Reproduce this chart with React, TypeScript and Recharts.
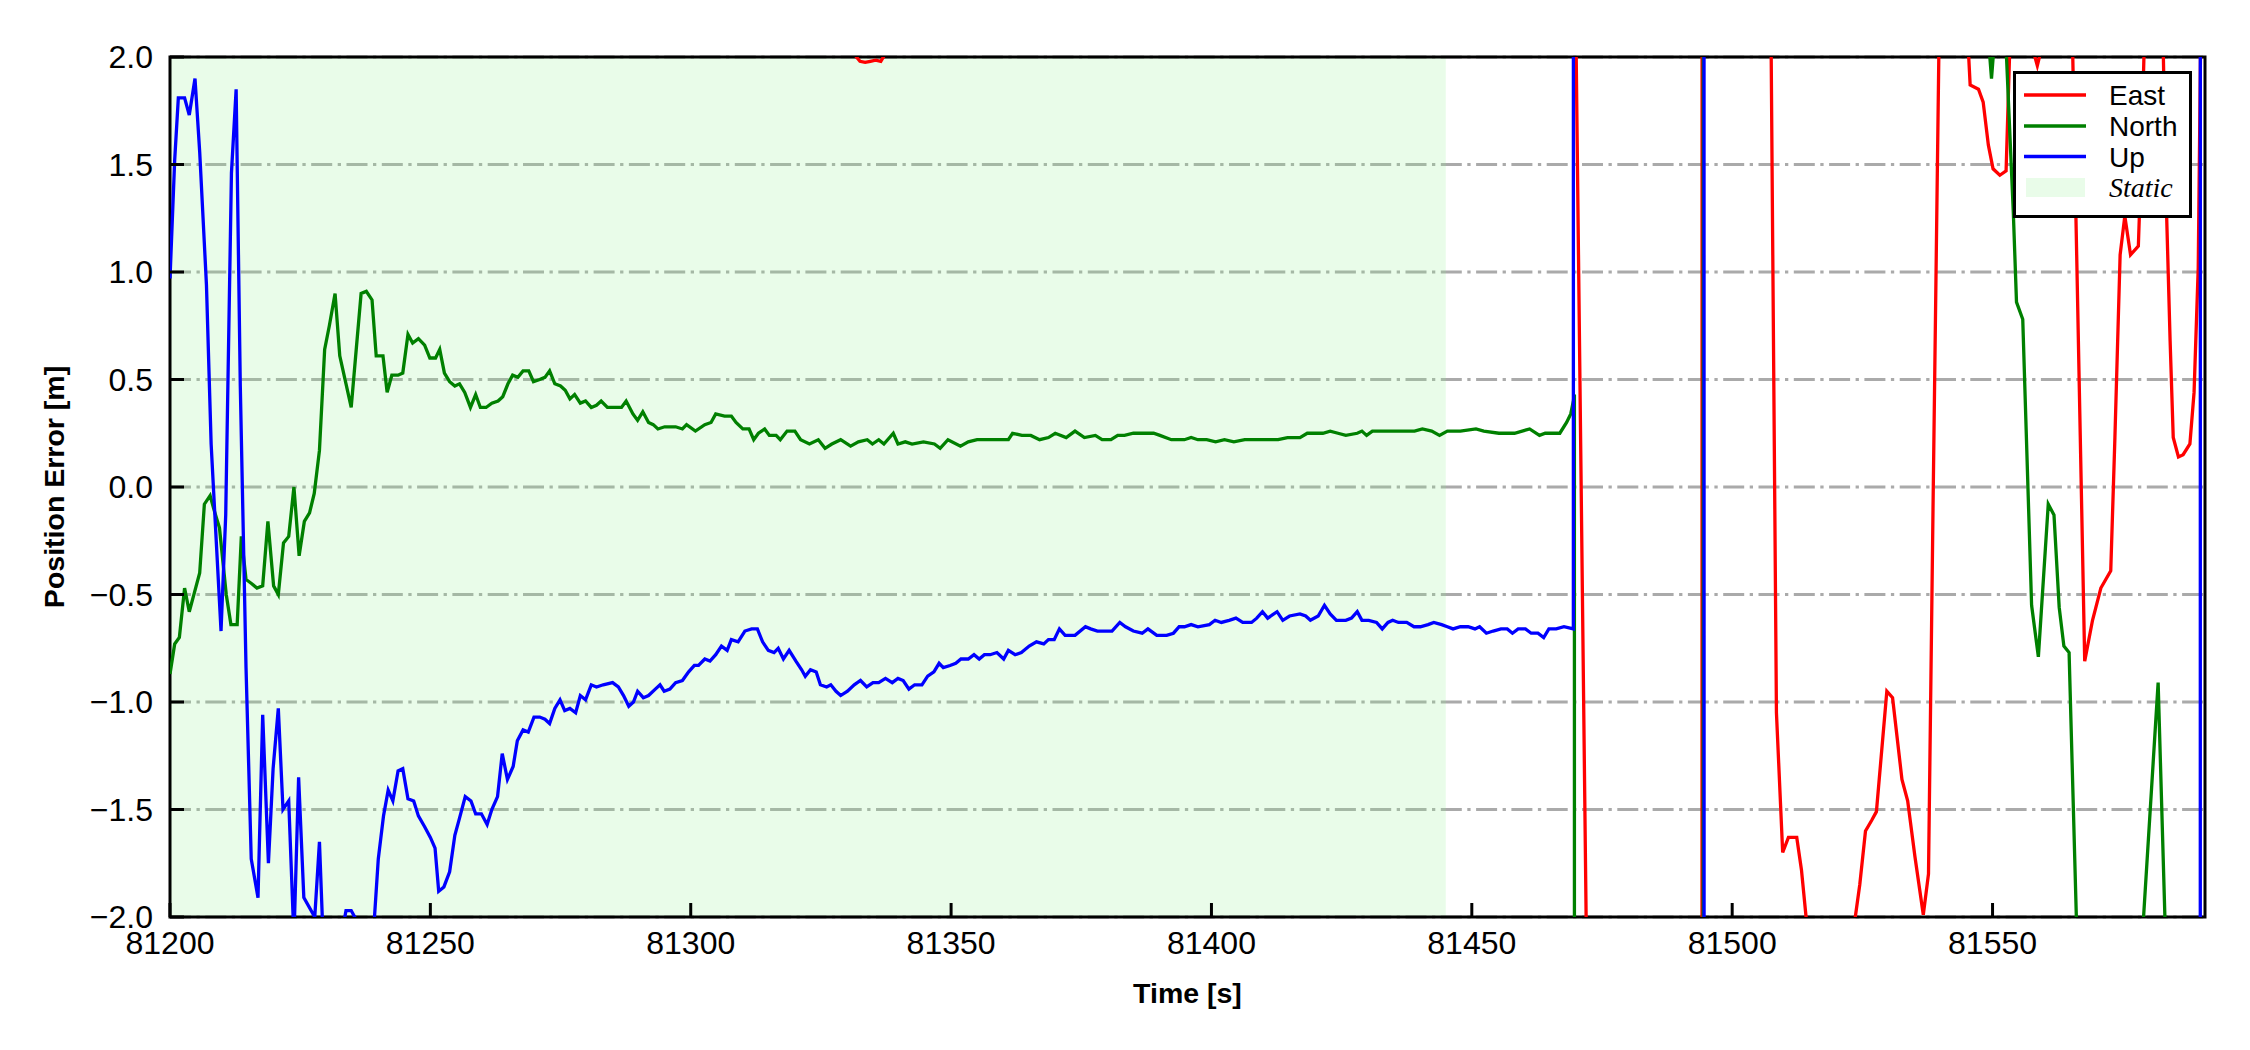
import React from 'react';
import {
  LineChart,
  Line,
  XAxis,
  YAxis,
  CartesianGrid,
  ReferenceArea,
  Legend,
} from 'recharts';

// ---------------- data (time [s], error [m]) ----------------
const eastPts: [number, number][] = [
  [81200, 2.6], [81250, 2.4], [81300, 2.15], [81328, 2.05], [81331.5, 2.01],
  [81332.5, 1.98], [81333.5, 1.975], [81334.5, 1.98], [81335.5, 1.985], [81336.5, 1.98],
  [81337.5, 2.02], [81345, 2.1], [81400, 2.25], [81450, 2.2], [81470, 2.1],
  [81473, -4.2], [81494.2, -5], [81494.3, 30], [81507, 3.5], [81508.5, -1.05],
  [81509.7, -1.7], [81510.8, -1.63], [81512.4, -1.63], [81513.3, -1.78], [81515, -2.2],
  [81519, -2.5], [81522.5, -2.2], [81524.5, -1.85], [81525.6, -1.6], [81526.8, -1.55],
  [81527.7, -1.51], [81529.7, -0.95], [81530.8, -0.98], [81532.6, -1.36], [81533.7, -1.46],
  [81535.1, -1.72], [81536.7, -1.99], [81537.7, -1.8], [81538.6, -0.04], [81540, 2.6],
  [81543, 3.0], [81545, 2.2], [81545.7, 1.87], [81547.3, 1.85], [81548.2, 1.79],
  [81549.2, 1.59], [81550.1, 1.48], [81551.4, 1.45], [81552.6, 1.47], [81554, 2.6],
  [81557.8, 2.03], [81558.6, 1.96], [81559.3, 2.03], [81562, 2.6], [81565, 2.5],
  [81567.7, -0.81], [81569.2, -0.62], [81570.8, -0.47], [81572.7, -0.39], [81573.5, 0.23],
  [81574.5, 1.08], [81575.4, 1.26], [81576.5, 1.08], [81578, 1.12], [81578.6, 1.55],
  [81579.7, 2.6], [81582.3, 2.6], [81583.4, 1.29], [81584.1, 0.68], [81584.7, 0.23],
  [81585.7, 0.14], [81586.6, 0.15], [81587.9, 0.2], [81588.7, 0.44], [81589.5, 1.02],
  [81590.5, 3.3],
];

const northPts: [number, number][] = [
  [81200, -0.87], [81200.9, -0.73], [81201.8, -0.7], [81202.8, -0.47], [81203.7, -0.58],
  [81204.7, -0.49], [81205.7, -0.4], [81206.6, -0.08], [81207.7, -0.04], [81208.5, -0.11],
  [81209.5, -0.19], [81210.8, -0.5], [81211.7, -0.64], [81212.9, -0.64], [81213.7, -0.23],
  [81214.6, -0.43], [81215.7, -0.45], [81216.7, -0.47], [81217.8, -0.46], [81218.8, -0.16],
  [81219.9, -0.46], [81220.8, -0.5], [81221.8, -0.26], [81222.8, -0.23], [81223.8, 0.0],
  [81224.8, -0.32], [81225.8, -0.16], [81226.8, -0.12], [81227.7, -0.03], [81228.7, 0.17],
  [81229.7, 0.64], [81230.6, 0.75], [81231.7, 0.9], [81232.6, 0.61], [81233.8, 0.48],
  [81234.8, 0.37], [81235.8, 0.65], [81236.7, 0.9], [81237.7, 0.91], [81238.8, 0.87],
  [81239.6, 0.61], [81240.9, 0.61], [81241.7, 0.44], [81242.6, 0.52], [81243.8, 0.52],
  [81244.7, 0.53], [81245.7, 0.71], [81246.6, 0.67], [81247.7, 0.69], [81248.9, 0.66],
  [81249.9, 0.6], [81251.0, 0.6], [81251.8, 0.64], [81252.7, 0.53], [81253.7, 0.49],
  [81254.7, 0.47], [81255.6, 0.48], [81256.6, 0.44], [81257.7, 0.37], [81258.7, 0.43],
  [81259.6, 0.37], [81260.7, 0.37], [81261.8, 0.39], [81263.0, 0.4], [81263.9, 0.42],
  [81264.9, 0.48], [81265.8, 0.52], [81266.8, 0.51], [81267.8, 0.54], [81268.9, 0.54],
  [81269.8, 0.49], [81271.0, 0.5], [81272.0, 0.51], [81272.9, 0.54], [81273.9, 0.48],
  [81275.0, 0.47], [81275.9, 0.45], [81276.8, 0.41], [81277.7, 0.43], [81278.8, 0.39],
  [81279.8, 0.4], [81280.9, 0.37], [81281.9, 0.38], [81282.8, 0.4], [81284.0, 0.37],
  [81285.4, 0.37], [81286.7, 0.37], [81287.6, 0.4], [81288.9, 0.34], [81289.8, 0.31],
  [81290.8, 0.35], [81291.9, 0.3], [81292.8, 0.29], [81293.7, 0.27], [81295.0, 0.28],
  [81297.1, 0.28], [81298.4, 0.27], [81299.2, 0.29], [81300.9, 0.26], [81302.7, 0.29],
  [81303.9, 0.3], [81304.8, 0.34], [81306.5, 0.33], [81307.8, 0.33], [81308.7, 0.3],
  [81310.0, 0.27], [81311.2, 0.27], [81312.1, 0.22], [81313.0, 0.25], [81314.2, 0.27],
  [81315.1, 0.24], [81316.4, 0.24], [81317.2, 0.22], [81318.5, 0.26], [81320.0, 0.26],
  [81321.1, 0.22], [81322.8, 0.2], [81324.5, 0.22], [81325.8, 0.18], [81327.1, 0.2],
  [81328.8, 0.22], [81330.7, 0.19], [81332.2, 0.21], [81333.9, 0.22], [81334.9, 0.2],
  [81336.1, 0.22], [81337.1, 0.2], [81338.9, 0.25], [81339.8, 0.2], [81341.2, 0.21],
  [81342.5, 0.2], [81344.7, 0.21], [81346.8, 0.2], [81347.9, 0.18], [81349.4, 0.22],
  [81351.8, 0.19], [81353.3, 0.21], [81355.0, 0.22], [81357.1, 0.22], [81359.3, 0.22],
  [81361.0, 0.22], [81361.8, 0.25], [81363.6, 0.24], [81365.3, 0.24], [81367.0, 0.22],
  [81368.7, 0.23], [81370.0, 0.25], [81372.1, 0.23], [81373.8, 0.26], [81375.6, 0.23],
  [81377.7, 0.24], [81379.0, 0.22], [81380.7, 0.22], [81382.0, 0.24], [81383.3, 0.24],
  [81385.0, 0.25], [81387.1, 0.25], [81388.9, 0.25], [81390.1, 0.24], [81392.3, 0.22],
  [81394.8, 0.22], [81396.1, 0.23], [81397.4, 0.22], [81399.1, 0.22], [81400.8, 0.21],
  [81402.5, 0.22], [81404.3, 0.21], [81406.4, 0.22], [81408.6, 0.22], [81411.1, 0.22],
  [81412.8, 0.22], [81414.6, 0.23], [81417.0, 0.23], [81418.4, 0.25], [81421.4, 0.25],
  [81422.8, 0.26], [81424.3, 0.25], [81425.8, 0.24], [81428.0, 0.25], [81428.9, 0.26],
  [81429.8, 0.24], [81430.9, 0.26], [81432.4, 0.26], [81435.3, 0.26], [81436.8, 0.26],
  [81439.0, 0.26], [81440.5, 0.27], [81442.3, 0.26], [81443.8, 0.24], [81445.3, 0.26],
  [81447.8, 0.26], [81450.8, 0.27], [81452.3, 0.26], [81455.2, 0.25], [81458.2, 0.25],
  [81461.1, 0.27], [81463.0, 0.24], [81464.1, 0.25], [81466.9, 0.25], [81468.2, 0.3],
  [81469.0, 0.34], [81469.5, 0.4], [81469.7, 0.43], [81469.8, -40], [81494.4, -40],
  [81494.5, 40], [81548, 3], [81549, 2.15], [81549.8, 1.9], [81550.6, 2.15],
  [81551.5, 2.4], [81552.5, 2.1], [81554, 1.27], [81554.6, 0.86], [81555.8, 0.78],
  [81557.5, -0.55], [81558.8, -0.79], [81560.7, -0.08], [81561.8, -0.13], [81562.8, -0.56],
  [81563.7, -0.74], [81564.7, -0.77], [81567, -2.8], [81578, -2.39], [81581.8, -0.91],
  [81583.1, -2.0], [81584, -2.6], [81590.5, -3],
];

const upPts: [number, number][] = [
  [81200, 0.97], [81200.9, 1.52], [81201.6, 1.81], [81202.8, 1.81], [81203.7, 1.73],
  [81204.8, 1.9], [81205.7, 1.56], [81207.0, 0.94], [81207.9, 0.2], [81208.9, -0.26],
  [81209.8, -0.67], [81210.7, -0.13], [81211.8, 1.46], [81212.7, 1.85], [81213.5, 0.47],
  [81214.6, -0.84], [81215.6, -1.73], [81216.9, -1.91], [81217.8, -1.06], [81218.9, -1.75],
  [81219.8, -1.31], [81220.8, -1.03], [81221.7, -1.5], [81222.8, -1.46], [81223.8, -2.1],
  [81224.7, -1.35], [81225.7, -1.91], [81227.8, -2.0], [81228.7, -1.65], [81229.4, -2.1],
  [81230.5, -2.2], [81233.2, -2.05], [81233.8, -1.97], [81234.8, -1.97], [81235.7, -2.01],
  [81237.5, -2.2], [81239.0, -2.1], [81240.0, -1.73], [81241.0, -1.53], [81241.9, -1.41],
  [81242.8, -1.46], [81243.8, -1.32], [81244.7, -1.31], [81245.7, -1.45], [81246.8, -1.46],
  [81247.7, -1.53], [81248.9, -1.58], [81250.0, -1.63], [81250.9, -1.68], [81251.6, -1.88],
  [81252.6, -1.86], [81253.7, -1.79], [81254.7, -1.62], [81255.6, -1.54], [81256.7, -1.44],
  [81257.8, -1.46], [81258.7, -1.52], [81259.8, -1.52], [81260.9, -1.57], [81261.8, -1.5],
  [81262.9, -1.44], [81263.8, -1.24], [81264.8, -1.36], [81265.9, -1.3], [81266.7, -1.18],
  [81267.8, -1.13], [81268.8, -1.14], [81269.9, -1.07], [81271.0, -1.07], [81272.0, -1.08],
  [81272.9, -1.1], [81273.9, -1.03], [81274.9, -0.99], [81275.8, -1.04], [81276.8, -1.03],
  [81277.9, -1.05], [81278.8, -0.97], [81279.8, -0.99], [81280.9, -0.92], [81281.9, -0.93],
  [81283.2, -0.92], [81285.0, -0.91], [81286.1, -0.93], [81287.1, -0.97], [81288.1, -1.02],
  [81289.0, -1.0], [81289.8, -0.95], [81290.9, -0.98], [81291.9, -0.97], [81293.2, -0.94],
  [81294.1, -0.92], [81294.9, -0.95], [81296.0, -0.94], [81297.1, -0.91], [81298.4, -0.9],
  [81299.6, -0.86], [81300.7, -0.83], [81301.5, -0.83], [81302.7, -0.8], [81303.7, -0.81],
  [81304.8, -0.78], [81305.9, -0.74], [81307.0, -0.76], [81307.8, -0.71], [81309.1, -0.72],
  [81310.4, -0.67], [81311.7, -0.66], [81312.8, -0.66], [81313.8, -0.72], [81314.9, -0.76],
  [81316.0, -0.77], [81316.8, -0.75], [81317.8, -0.8], [81318.9, -0.76], [81320.2, -0.81],
  [81321.3, -0.85], [81322.0, -0.88], [81323.0, -0.85], [81324.1, -0.86], [81324.9, -0.92],
  [81326.1, -0.93], [81326.9, -0.92], [81327.9, -0.95], [81328.8, -0.97], [81330.1, -0.95],
  [81331.4, -0.92], [81332.6, -0.9], [81333.8, -0.93], [81335.0, -0.91], [81336.1, -0.91],
  [81337.4, -0.89], [81338.7, -0.91], [81339.8, -0.89], [81340.8, -0.9], [81341.9, -0.94],
  [81343.0, -0.92], [81344.4, -0.92], [81345.5, -0.88], [81346.7, -0.86], [81347.7, -0.82],
  [81348.5, -0.84], [81349.8, -0.83], [81350.9, -0.82], [81351.9, -0.8], [81353.3, -0.8],
  [81354.4, -0.78], [81355.4, -0.8], [81356.4, -0.78], [81357.5, -0.78], [81358.8, -0.77],
  [81360.1, -0.8], [81361.0, -0.76], [81362.3, -0.78], [81363.5, -0.77], [81365.0, -0.74],
  [81366.4, -0.72], [81367.8, -0.73], [81368.7, -0.71], [81369.8, -0.71], [81370.8, -0.66],
  [81371.9, -0.69], [81373.8, -0.69], [81375.8, -0.65], [81376.8, -0.66], [81378.1, -0.67],
  [81379.8, -0.67], [81380.9, -0.67], [81382.4, -0.63], [81383.5, -0.65], [81385.0, -0.67],
  [81386.7, -0.68], [81387.8, -0.66], [81389.5, -0.69], [81391.4, -0.69], [81392.7, -0.68],
  [81393.8, -0.65], [81394.8, -0.65], [81396.1, -0.64], [81397.4, -0.65], [81399.6, -0.64],
  [81400.7, -0.62], [81401.9, -0.63], [81403.4, -0.62], [81404.7, -0.61], [81406.0, -0.63],
  [81407.7, -0.63], [81408.7, -0.61], [81409.8, -0.58], [81410.8, -0.61], [81412.6, -0.58],
  [81413.7, -0.62], [81415.0, -0.6], [81417.0, -0.59], [81418.1, -0.6], [81419.0, -0.62],
  [81420.5, -0.6], [81421.7, -0.55], [81422.8, -0.59], [81424.0, -0.62], [81425.8, -0.62],
  [81426.9, -0.61], [81428.0, -0.58], [81428.9, -0.62], [81430.2, -0.62], [81431.7, -0.63],
  [81432.8, -0.66], [81433.9, -0.63], [81434.8, -0.62], [81435.9, -0.63], [81437.5, -0.63],
  [81438.9, -0.65], [81440.1, -0.65], [81441.6, -0.64], [81442.7, -0.63], [81444.2, -0.64],
  [81445.3, -0.65], [81446.4, -0.66], [81447.8, -0.65], [81449.3, -0.65], [81450.6, -0.66],
  [81451.5, -0.65], [81452.8, -0.68], [81454.1, -0.67], [81455.6, -0.66], [81456.8, -0.66],
  [81457.8, -0.68], [81458.9, -0.66], [81460.3, -0.66], [81461.4, -0.68], [81462.7, -0.68],
  [81463.8, -0.7], [81464.8, -0.66], [81466.2, -0.66], [81467.7, -0.65], [81469.5, -0.66],
  [81469.6, 40], [81494.5, 40], [81494.7, -40], [81589.8, -40], [81590.0, 40],
];

const xTicks = [81200, 81250, 81300, 81350, 81400, 81450, 81500, 81550];
const yTicks = [-2, -1.5, -1, -0.5, 0, 0.5, 1, 1.5, 2];
const xDomain: [number, number] = [81200, 81590.8];
const yDomain: [number, number] = [-2, 2];
const staticSpan: [number, number] = [81200, 81445];

const seriesNames = ['East', 'North', 'Up'];
const seriesColors = ['#ff0000', '#008000', '#0000ff'];
const staticLabel = 'Static';

const toRows = (pts: [number, number][]) => pts.map(([t, v]) => ({ t, v }));
const eastData = toRows(eastPts);
const northData = toRows(northPts);
const upData = toRows(upPts);

const FONT = '"Liberation Sans", Arial, Helvetica, sans-serif';
const fmtY = (v: number) => v.toFixed(1).replace('-', '\u2212');

const renderYLabel = () => (
  <text
    x={64}
    y={487}
    transform="rotate(-90 64 487)"
    textAnchor="middle"
    fontFamily={FONT}
    fontWeight="bold"
    fontSize={28.5}
    fill="#000"
  >
    Position Error [m]
  </text>
);

const renderXLabel = () => (
  <text
    x={1187.5}
    y={1003}
    textAnchor="middle"
    fontFamily={FONT}
    fontWeight="bold"
    fontSize={28.5}
    fill="#000"
  >
    Time [s]
  </text>
);

const renderLegend = () => {
  const rowsY = [24, 55, 85.5];
  return (
    <svg width={179} height={147} style={{ display: 'block' }}>
      <rect x={1.5} y={1.5} width={176} height={144} fill="#ffffff" stroke="#000" strokeWidth={3} />
      {seriesNames.map((name, i) => (
        <g key={name}>
          <line x1={11} x2={73} y1={rowsY[i]} y2={rowsY[i]} stroke={seriesColors[i]} strokeWidth={3.3} />
          <text x={96} y={rowsY[i] + 10} fontFamily={FONT} fontSize={28} fill="#000">
            {name}
          </text>
        </g>
      ))}
      <rect x={13} y={107} width={59} height={19} fill="#90ee90" fillOpacity={0.2} />
      <text
        x={96}
        y={125.5}
        fontFamily='"Liberation Serif", "Times New Roman", serif'
        fontStyle="italic"
        fontSize={28}
        fill="#000"
      >
        {staticLabel}
      </text>
    </svg>
  );
};

export default function App() {
  return (
    <div style={{ position: 'absolute', left: 0, top: 0, width: 2250, height: 1050, background: '#fff' }}>
      <LineChart width={2250} height={1050} margin={{ top: 57, right: 45, bottom: 73, left: 70 }}>
        <ReferenceArea
          x1={staticSpan[0]}
          x2={staticSpan[1]}
          y1={yDomain[0]}
          y2={yDomain[1]}
          fill="#90ee90"
          fillOpacity={0.2}
          stroke="none"
        />
        <CartesianGrid
          vertical={false}
          stroke="#aaaaaa"
          strokeWidth={3}
          strokeDasharray="21 5.5 3.3 5.5"
        />
        <XAxis
          type="number"
          dataKey="t"
          domain={xDomain}
          allowDataOverflow
          ticks={xTicks}
          interval={0}
          height={60}
          axisLine={false}
          tickSize={-14}
          tickMargin={28}
          tickLine={{ stroke: '#000', strokeWidth: 3 }}
          tick={{ fill: '#000', fontSize: 32, fontFamily: FONT }}
          label={renderXLabel}
        />
        <YAxis
          type="number"
          domain={yDomain}
          allowDataOverflow
          ticks={yTicks}
          interval={0}
          width={100}
          axisLine={false}
          tickSize={-14}
          tickMargin={31}
          tickFormatter={fmtY}
          tickLine={{ stroke: '#000', strokeWidth: 3 }}
          tick={{ fill: '#000', fontSize: 32, fontFamily: FONT }}
          label={renderYLabel}
        />
        <Line data={eastData} dataKey="v" name={seriesNames[0]} type="linear" stroke={seriesColors[0]}
          strokeWidth={3.3} dot={false} activeDot={false} isAnimationActive={false} />
        <Line data={northData} dataKey="v" name={seriesNames[1]} type="linear" stroke={seriesColors[1]}
          strokeWidth={3.3} dot={false} activeDot={false} isAnimationActive={false} />
        <Line data={upData} dataKey="v" name={seriesNames[2]} type="linear" stroke={seriesColors[2]}
          strokeWidth={3.3} dot={false} activeDot={false} isAnimationActive={false} />
        <ReferenceArea
          x1={xDomain[0]}
          x2={xDomain[1]}
          y1={yDomain[0]}
          y2={yDomain[1]}
          fill="none"
          fillOpacity={0}
          stroke="#000"
          strokeWidth={3}
        />
        <Legend
          layout="horizontal"
          verticalAlign="middle"
          align="center"
          content={renderLegend}
          wrapperStyle={{ position: 'absolute', left: 2013, top: 71, width: 179, height: 147 }}
        />
      </LineChart>
    </div>
  );
}
